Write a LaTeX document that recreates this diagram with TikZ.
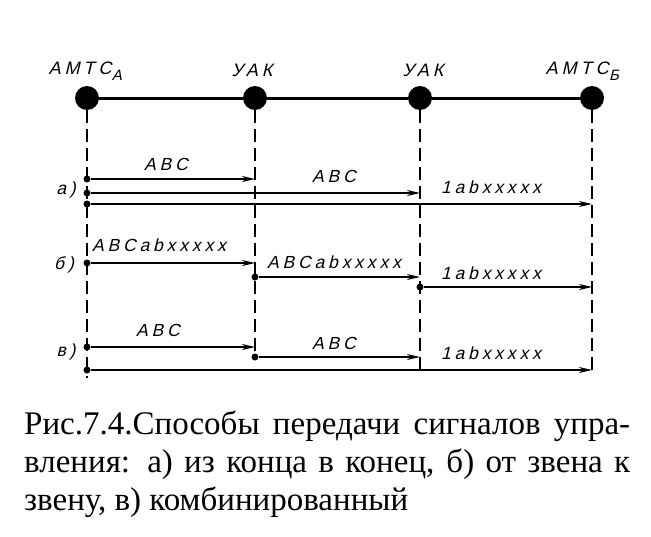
\documentclass[tikz,border=0pt]{standalone}
\usepackage{fontspec}
\setmainfont{Liberation Serif}
\newfontfamily\labfont[LetterSpace=22]{Liberation Sans}
\newcommand\slnt[1]{\special{pdf:btrans matrix 1 0 0.24 1 0 0}#1\special{pdf:etrans}}
\usetikzlibrary{arrows.meta}
\begin{document}
\begin{tikzpicture}[x=1pt,y=-1pt,
  bigdot/.style={circle,fill=black,inner sep=0pt,minimum size=24pt},
  sdot/.style={circle,fill=black,inner sep=0pt,minimum size=7pt},
  vline/.style={line width=2.2pt,dash pattern=on 13pt off 6pt},
  mainline/.style={line width=3pt},
  sig/.style={line width=2pt,-{Stealth[length=13pt,width=6pt]}},
  lbl/.style={font=\labfont\fontsize{17.5}{17.5}\selectfont,inner sep=0pt},
  toplbl/.style={font=\labfont\fontsize{18}{18}\selectfont,inner sep=0pt},
]
\useasboundingbox (0,0) rectangle (651,536);

% stations
\node[bigdot] (A) at (87,98) {};
\node[bigdot] (U1) at (255,98) {};
\node[bigdot] (U2) at (420,98) {};
\node[bigdot] (B) at (592,98) {};

\node[toplbl] (lA) at (86,71) {\slnt{АМТС\kern2pt\raisebox{-6pt}{\fontsize{15}{15}\selectfont А}}};
\node[toplbl] (lU1) at (252,70) {\slnt{УАК}};
\node[toplbl] (lU2) at (423,70) {\slnt{УАК}};
\node[toplbl] (lB) at (583,71) {\slnt{АМТС\kern2pt\raisebox{-6pt}{\fontsize{15}{15}\selectfont Б}}};

\draw[mainline] (A) -- (U1) -- (U2) -- (B);

% vertical lines
\coordinate (Abot) at (87,378);
\coordinate (U1bot) at (255,360);
\coordinate (U2bot) at (420,370);
\coordinate (Bbot) at (592,370);
\draw[vline] (A) -- (Abot);
\draw[vline] (U1) -- (U1bot);
\draw[vline] (U2) -- (U2bot);
\draw[vline] (B) -- (Bbot);

% row a
\node[sdot] (a1) at (87,179) {};
\node[sdot] (a2) at (87,193) {};
\node[sdot] (a3) at (87,204) {};
\coordinate (a1e) at (255,179);
\coordinate (a2e) at (420,193);
\coordinate (a3e) at (592,204);
\draw[sig] (a1) -- (a1e);
\draw[sig] (a2) -- (a2e);
\draw[sig] (a3) -- (a3e);
\node[lbl] (la1) at (166,164) {\slnt{ABC}};
\node[lbl] (la2) at (334,176) {\slnt{ABC}};
\node[lbl] (la3) at (491,187) {\slnt{1abxxxxx}};
\node[lbl] (ra) at (66,190) {\slnt{а)}};

% row b
\node[sdot] (b1) at (87,263) {};
\node[sdot] (b2) at (255,277) {};
\node[sdot] (b3) at (420,287) {};
\coordinate (b1e) at (255,263);
\coordinate (b2e) at (420,277);
\coordinate (b3e) at (592,287);
\draw[sig] (b1) -- (b1e);
\draw[sig] (b2) -- (b2e);
\draw[sig] (b3) -- (b3e);
\node[lbl] (lb1) at (159,245) {\slnt{ABCabxxxxx}};
\node[lbl] (lb2) at (334,262) {\slnt{ABCabxxxxx}};
\node[lbl] (lb3) at (491,273) {\slnt{1abxxxxx}};
\node[lbl] (rb) at (64,265) {\slnt{б)}};

% row c
\node[sdot] (c1) at (87,347) {};
\node[sdot] (c2) at (255,357) {};
\node[sdot] (c3) at (87,370) {};
\coordinate (c1e) at (255,347);
\coordinate (c2e) at (420,357);
\coordinate (c3e) at (592,370);
\draw[sig] (c1) -- (c1e);
\draw[sig] (c2) -- (c2e);
\draw[sig] (c3) -- (c3e);
\node[lbl] (lc1) at (158,330) {\slnt{ABC}};
\node[lbl] (lc2) at (334,343) {\slnt{ABC}};
\node[lbl] (lc3) at (491,353) {\slnt{1abxxxxx}};
\node[lbl] (rc) at (66,352) {\slnt{в)}};

% caption
\node[anchor=north west,align=left,inner sep=0pt,
      font=\fontsize{33}{38}\selectfont] (cap) at (24,411)
  {\makebox[606pt][s]{Рис.7.4.Способы передачи сигналов упра-}\\
   \makebox[606pt][s]{вления: а) из конца в конец, б) от звена к}\\
   звену, в) комбинированный};
\end{tikzpicture}
\end{document}
